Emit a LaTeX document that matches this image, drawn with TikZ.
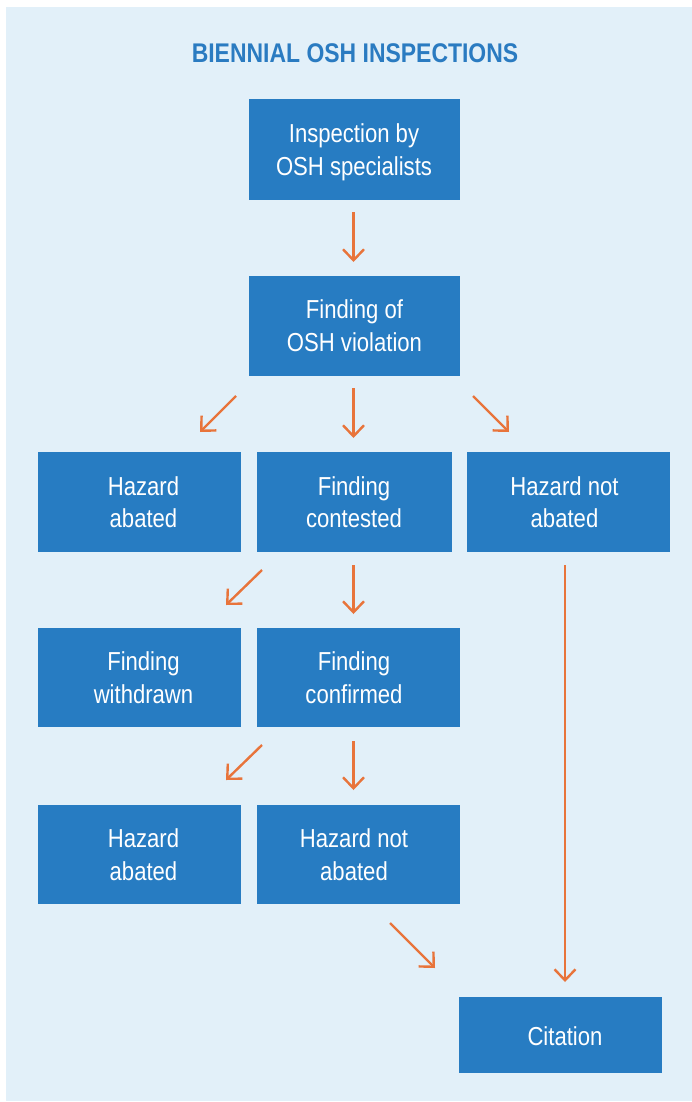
\documentclass[tikz,border=0pt]{standalone}
\usepackage{fontspec}
\setmainfont{Liberation Sans}[FakeStretch=0.85]
\usetikzlibrary{arrows.meta}
\definecolor{bgblue}{HTML}{E2F0F9}
\definecolor{boxblue}{HTML}{277CC2}
\definecolor{titleblue}{HTML}{2A7BC1}
\definecolor{arrorange}{HTML}{E8743B}
\begin{document}
\begin{tikzpicture}[x=1pt,y=-1pt,
  box/.style={fill=boxblue, draw=none, inner sep=0pt, minimum height=100pt, minimum width=203pt},
  txt/.style={text=white, align=center, inner sep=0pt, text depth=0pt, font=\fontsize{26}{32.5}\selectfont},
  ttl/.style={text=titleblue, inner sep=0pt, text depth=0pt, font=\bfseries\fontsize{27}{32}\selectfont},
  arr/.style={draw=arrorange, line width=2.4pt, -{Straight Barb[length=11pt,width=21pt]}}]
\useasboundingbox (0,0) rectangle (692,1102);
\fill[bgblue] (6,7) rectangle (692,1101);

\node[ttl] (title) at (355,53.5) {BIENNIAL OSH INSPECTIONS};

% boxes
\node[box, minimum width=211pt] (b1) at (354.5,149.5) {};
\node[box, minimum width=211pt] (b2) at (354.5,325.5) {};
\node[box] (b3a) at (139.5,502) {};
\node[box, minimum width=195pt] (b3b) at (354.5,502) {};
\node[box] (b3c) at (568.5,502) {};
\node[box, minimum height=99pt] (b4a) at (139.5,677.5) {};
\node[box, minimum height=99pt] (b4b) at (358.5,677.5) {};
\node[box, minimum height=99pt] (b5a) at (139.5,854.5) {};
\node[box, minimum height=99pt] (b5b) at (358.5,854.5) {};
\node[box, minimum height=76pt] (cit) at (560.5,1035) {};

% texts
\node[txt] (t1) at (354,149.5) {Inspection by\\OSH specialists};
\node[txt] (t2) at (354.5,325.5) {Finding of\\OSH violation};
\node[txt] (t3a) at (143.5,502) {Hazard\\abated};
\node[txt] (t3b) at (354,502) {Finding\\contested};
\node[txt] (t3c) at (564.5,502) {Hazard not\\abated};
\node[txt] (t4a) at (143.5,677.5) {Finding\\withdrawn};
\node[txt] (t4b) at (354,677.5) {Finding\\confirmed};
\node[txt] (t5a) at (143.5,854.5) {Hazard\\abated};
\node[txt] (t5b) at (354,854.5) {Hazard not\\abated};
\node[txt] (tc) at (565,1036) {Citation};

% arrow end points
\coordinate (a1s) at (353.5,212);  \coordinate (a1e) at (353.5,262);
\coordinate (a2ls) at (236,396);   \coordinate (a2le) at (200,432);
\coordinate (a2cs) at (353.5,388); \coordinate (a2ce) at (353.5,438);
\coordinate (a2rs) at (473,396);   \coordinate (a2re) at (509,432);
\coordinate (a3ls) at (262,570);   \coordinate (a3le) at (226,605);
\coordinate (a3cs) at (353.5,565); \coordinate (a3ce) at (353.5,614);
\coordinate (a4ls) at (262,745);   \coordinate (a4le) at (226,780);
\coordinate (a4cs) at (353.5,741); \coordinate (a4ce) at (353.5,790);
\coordinate (a5s) at (390,923);    \coordinate (a5e) at (435,968);
\coordinate (a6s) at (565,565);    \coordinate (a6e) at (565,982);

\draw[arr] (a1s) -- (a1e);
\draw[arr] (a2ls) -- (a2le);
\draw[arr] (a2cs) -- (a2ce);
\draw[arr] (a2rs) -- (a2re);
\draw[arr] (a3ls) -- (a3le);
\draw[arr] (a3cs) -- (a3ce);
\draw[arr] (a4ls) -- (a4le);
\draw[arr] (a4cs) -- (a4ce);
\draw[arr] (a5s) -- (a5e);
\draw[arr] (a6s) -- (a6e);
\end{tikzpicture}
\end{document}
